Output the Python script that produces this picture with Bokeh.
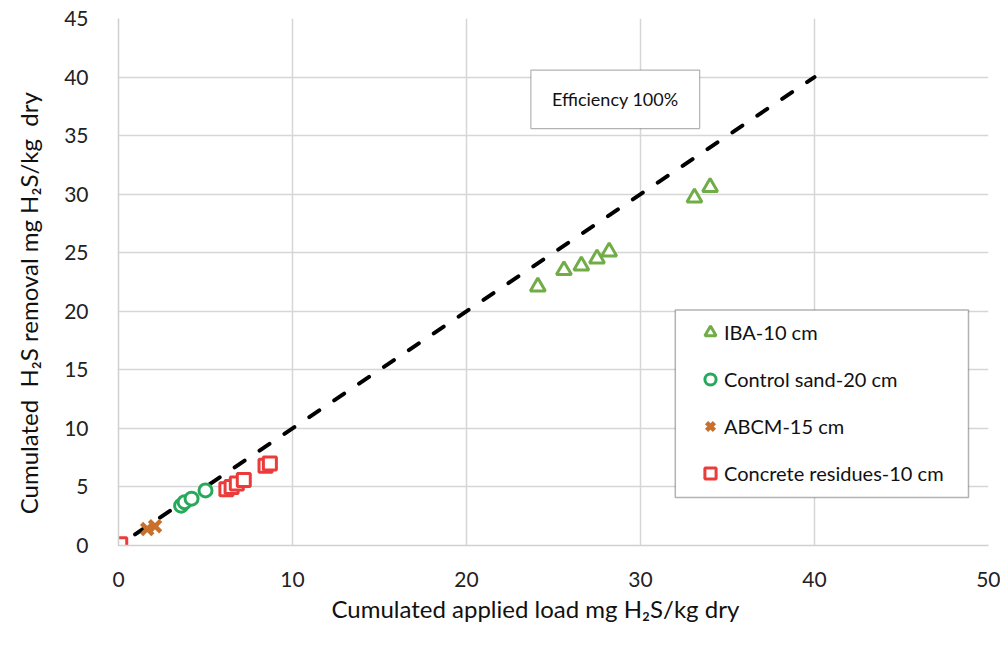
from bokeh.plotting import figure
from bokeh.models import Range1d, Legend, LegendItem, BoxAnnotation, Label, FixedTicker
from bokeh.embed import file_html
from bokeh.resources import INLINE

# Data
iba_x = [24.1, 25.6, 26.6, 27.5, 28.2, 33.1, 34.0]
iba_y = [22.1, 23.5, 23.9, 24.5, 25.1, 29.7, 30.6]
sand_x = [3.6, 3.8, 4.2, 5.0]
sand_y = [3.4, 3.7, 4.0, 4.7]
abcm_x = [1.65, 2.1]
abcm_y = [1.4, 1.65]
conc_x = [0.1, 6.2, 6.5, 6.8, 7.2, 8.45, 8.7]
conc_y = [0.1, 4.8, 5.0, 5.3, 5.6, 6.8, 7.0]
eff_x = [0, 40]
eff_y = [0, 40]
x_ticks = [0, 10, 20, 30, 40, 50]
y_ticks = [0, 5, 10, 15, 20, 25, 30, 35, 40, 45]

FONT = "Lato"
NB = "\u00a0"

p = figure(width=1000, height=650, output_backend="svg", toolbar_location=None,
           x_range=Range1d(0, 50), y_range=Range1d(0, 45),
           min_border_left=118, min_border_right=12, min_border_top=18, min_border_bottom=105)
p.outline_line_color = None

for ax in (p.xaxis[0], p.yaxis[0]):
    ax.major_tick_line_color = None
    ax.minor_tick_line_color = None
    ax.axis_line_color = "#d0d0d0"
    ax.axis_line_width = 1.5
    ax.major_label_text_font = FONT
    ax.major_label_text_font_size = "21px"
    ax.major_label_text_color = "#222222"
    ax.axis_label_text_font = FONT
    ax.axis_label_text_font_size = "24px"
    ax.axis_label_text_font_style = "normal"
    ax.axis_label_text_color = "#111111"
p.xaxis.ticker = FixedTicker(ticks=x_ticks)
p.yaxis.ticker = FixedTicker(ticks=y_ticks)
p.xaxis.major_label_standoff = 20
p.yaxis.major_label_standoff = 24
p.xaxis.axis_label = "Cumulated applied load mg H\u2082S/kg dry" + NB * 6
p.yaxis.axis_label = "Cumulated " + NB + "H\u2082S removal mg H\u2082S/kg " + NB + "dry" + NB * 7
p.xaxis.axis_label_standoff = 4
p.yaxis.axis_label_standoff = 18
p.xgrid.grid_line_color = "#d6d6d6"
p.ygrid.grid_line_color = "#d6d6d6"
p.xgrid.grid_line_width = 1.5
p.ygrid.grid_line_width = 1.5

p.line(eff_x, eff_y, line_color="black", line_width=4, line_dash="12 18",
       line_dash_offset=10, line_cap="round")

r_iba = p.scatter(iba_x, iba_y, marker="triangle", size=15, line_color="#70AD47",
                  line_width=3, fill_color="white")
r_sand = p.scatter(sand_x, sand_y, marker="circle", size=13, line_color="#27A95B",
                   line_width=3, fill_color="white")
r_abcm = p.scatter(abcm_x, abcm_y, marker="x", size=16, line_color="#C8702C",
                   line_width=4.5)
r_conc = p.scatter(conc_x, conc_y, marker="square", size=13, line_color="#EC3B3B",
                   line_width=3, fill_color="white")

# Efficiency text box
p.add_layout(BoxAnnotation(left=23.7, right=33.4, bottom=35.6, top=40.6,
                           fill_color="white", fill_alpha=1, line_color="black", line_width=1.2))
p.add_layout(Label(x=28.55, y=38.1, text="Efficiency 100%", text_align="center",
                   text_baseline="middle", text_font=FONT, text_font_size="18px",
                   text_color="#111111"))

# Legend box
p.add_layout(BoxAnnotation(left=32.0, right=48.85, bottom=4.1, top=20.1,
                           fill_color="white", fill_alpha=1, line_color="black", line_width=1.5))
legend = Legend(items=[
    LegendItem(label="IBA-10 cm", renderers=[r_iba]),
    LegendItem(label="Control sand-20 cm", renderers=[r_sand]),
    LegendItem(label="ABCM-15 cm", renderers=[r_abcm]),
    LegendItem(label="Concrete residues-10 cm", renderers=[r_conc]),
], location=(578, 56), border_line_color=None, background_fill_alpha=0,
    padding=10, spacing=15, label_height=32, glyph_height=32, glyph_width=28,
    label_standoff=0, margin=0, label_text_font=FONT, label_text_font_size="20px",
    label_text_color="#111111")
p.add_layout(legend, "center")

open("out.html", "w").write(file_html(p, INLINE))
